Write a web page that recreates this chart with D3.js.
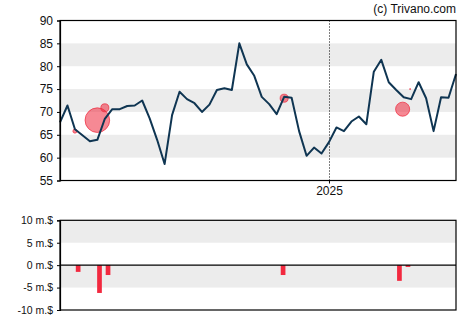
<!DOCTYPE html>
<html>
<head>
<meta charset="utf-8">
<script src="https://cdn.jsdelivr.net/npm/d3@7"></script>
<style>
  html, body { margin: 0; padding: 0; background: #fff; }
  svg { display: block; font-family: "Liberation Sans", Arial, sans-serif; }
</style>
</head>
<body>
<svg id="chart" width="470" height="325"></svg>
<script>
// Weekly closing prices
const dates = [
  "2024-04-24","2024-05-01","2024-05-08","2024-05-15","2024-05-22","2024-05-29",
  "2024-06-05","2024-06-12","2024-06-19","2024-06-26","2024-07-03","2024-07-10",
  "2024-07-17","2024-07-24","2024-07-31","2024-08-07","2024-08-14","2024-08-21",
  "2024-08-28","2024-09-04","2024-09-11","2024-09-18","2024-09-25","2024-10-02",
  "2024-10-09","2024-10-16","2024-10-23","2024-10-30","2024-11-06","2024-11-13",
  "2024-11-20","2024-11-27","2024-12-04","2024-12-11","2024-12-18","2024-12-25",
  "2025-01-01","2025-01-08","2025-01-15","2025-01-22","2025-01-29","2025-02-05",
  "2025-02-12","2025-02-19","2025-02-26","2025-03-05","2025-03-12","2025-03-19",
  "2025-03-26","2025-04-02","2025-04-09","2025-04-16","2025-04-23","2025-04-30"
];
const prices = [
  67.7, 71.4, 66.2, 64.9, 63.6, 63.9,
  68.5, 70.6, 70.6, 71.3, 71.4, 72.5,
  68.6, 63.9, 58.6, 69.3, 74.4, 72.8,
  71.9, 70.0, 71.6, 74.8, 75.2, 74.8,
  85.0, 80.4, 77.9, 73.3, 71.7, 69.5,
  73.3, 73.1, 65.8, 60.4, 62.2, 60.9,
  63.4, 66.6, 65.8, 67.9, 69.0, 67.3,
  78.8, 81.4, 76.5, 74.8, 73.2, 72.8,
  76.5, 73.0, 65.8, 73.2, 73.1, 78.3
];

// Insider transactions: date, price, amount (m.$)
const tradeDates  = ["2024-05-08","2024-05-29","2024-06-05","2024-11-20","2025-03-11","2025-03-18"];
const tradePrices = [65.8, 68.2, 70.9, 73.0, 70.6, 75.0];
const tradeSizes  = [0.16, 6.0, 0.64, 0.64, 1.96, 0.01];

// Net insider volume (m.$)
const volDates  = ["2024-05-11","2024-05-31","2024-06-08","2024-11-19","2025-03-08","2025-03-16"];
const volValues = [-1.5, -6.2, -2.2, -2.2, -3.5, -0.4];

const priceTicks = [55, 60, 65, 70, 75, 80, 85, 90];
const priceBands = [[60, 65], [70, 75], [80, 85]];
const volTicks   = [-10, -5, 0, 5, 10];
const volBands   = [[-5, 0], [5, 10]];
const yearMarks  = ["2025-01-01"];

const parse = d3.utcParse("%Y-%m-%d");
const svg = d3.select("#chart");

const left = 60, right = 456;
const x = d3.scaleUtc()
  .domain([parse(dates[0]), parse(dates[dates.length - 1])])
  .range([left, right]);

// ---- price panel ----
const y = d3.scaleLinear().domain([55, 90]).range([180.5, 20.5]);
const priceG = svg.append("g");

priceG.selectAll("rect.band").data(priceBands).join("rect")
  .attr("class", "band")
  .attr("x", left).attr("width", right - left)
  .attr("y", d => y(d[1])).attr("height", d => y(d[0]) - y(d[1]))
  .attr("fill", "#ececec");

priceG.selectAll("line.year").data(yearMarks).join("line")
  .attr("class", "year")
  .attr("x1", d => Math.round(x(parse(d))) + 0.5).attr("x2", d => Math.round(x(parse(d))) + 0.5)
  .attr("y1", y(90)).attr("y2", y(55))
  .attr("stroke", "#000").attr("stroke-width", 1).attr("stroke-dasharray", "1,2");

const rScale = d3.scaleSqrt().domain([0, 6]).range([0, 12.3]);
priceG.selectAll("circle.trade").data(tradeDates.map((d, i) => ({d: parse(d), p: tradePrices[i], s: tradeSizes[i]})))
  .join("circle")
  .attr("class", "trade")
  .attr("cx", d => x(d.d)).attr("cy", d => y(d.p))
  .attr("r", d => rScale(d.s))
  .attr("fill", "rgba(238, 40, 60, 0.55)")
  .attr("stroke", "rgba(238, 40, 60, 0.7)").attr("stroke-width", 1);

const line = d3.line().x((d, i) => x(parse(dates[i]))).y(d => y(d));
priceG.append("path").datum(prices)
  .attr("d", line)
  .attr("fill", "none").attr("stroke", "#0f3552").attr("stroke-width", 2)
  .attr("stroke-linejoin", "round");

priceG.append("rect")
  .attr("x", left).attr("y", y(90)).attr("width", right - left).attr("height", y(55) - y(90))
  .attr("fill", "none").attr("stroke", "#000").attr("stroke-width", 1.2);

const yAxis = priceG.append("g").attr("transform", `translate(${left},0)`)
  .call(d3.axisLeft(y).tickValues(priceTicks).tickSize(3).tickPadding(4));
yAxis.select(".domain").attr("stroke", "#000").attr("stroke-width", 1.2);
yAxis.selectAll("text").attr("font-size", 12).attr("fill", "#111").attr("font-family", "Liberation Sans, Arial, sans-serif");

const xAxis = priceG.append("g").attr("transform", `translate(0,${y(55)})`)
  .call(d3.axisBottom(x).tickValues(yearMarks.map(parse)).tickFormat(d3.utcFormat("%Y")).tickSize(3).tickPadding(3));
xAxis.select(".domain").remove();
xAxis.selectAll("text").attr("font-size", 12).attr("fill", "#111").attr("font-family", "Liberation Sans, Arial, sans-serif");

svg.append("text")
  .attr("x", right).attr("y", 13)
  .attr("text-anchor", "end")
  .attr("font-size", 12).attr("fill", "#111")
  .text("(c) Trivano.com");

// ---- insider volume panel ----
const yv = d3.scaleLinear().domain([-10, 10]).range([310, 220.3]);
const volG = svg.append("g");

volG.selectAll("rect.band").data(volBands).join("rect")
  .attr("class", "band")
  .attr("x", left).attr("width", right - left)
  .attr("y", d => yv(d[1])).attr("height", d => yv(d[0]) - yv(d[1]))
  .attr("fill", "#ececec");

volG.selectAll("rect.bar").data(volDates.map((d, i) => ({d: parse(d), v: volValues[i]})))
  .join("rect")
  .attr("class", "bar")
  .attr("x", d => x(d.d) - 2.35).attr("width", 4.7)
  .attr("y", d => yv(Math.max(0, d.v))).attr("height", d => Math.abs(yv(d.v) - yv(0)))
  .attr("fill", "#f2293f");

volG.append("line")
  .attr("x1", left).attr("x2", right).attr("y1", yv(0)).attr("y2", yv(0))
  .attr("stroke", "#000").attr("stroke-width", 1.2);

volG.append("rect")
  .attr("x", left).attr("y", yv(10)).attr("width", right - left).attr("height", yv(-10) - yv(10))
  .attr("fill", "none").attr("stroke", "#000").attr("stroke-width", 1.2);

const vAxis = volG.append("g").attr("transform", `translate(${left},0)`)
  .call(d3.axisLeft(yv).tickValues(volTicks).tickSize(3).tickPadding(4).tickFormat(d => d + " m.$"));
vAxis.select(".domain").attr("stroke", "#000").attr("stroke-width", 1.2);
vAxis.selectAll("text").attr("font-size", 10.5).attr("fill", "#111").attr("font-family", "Liberation Sans, Arial, sans-serif");
</script>
</body>
</html>
